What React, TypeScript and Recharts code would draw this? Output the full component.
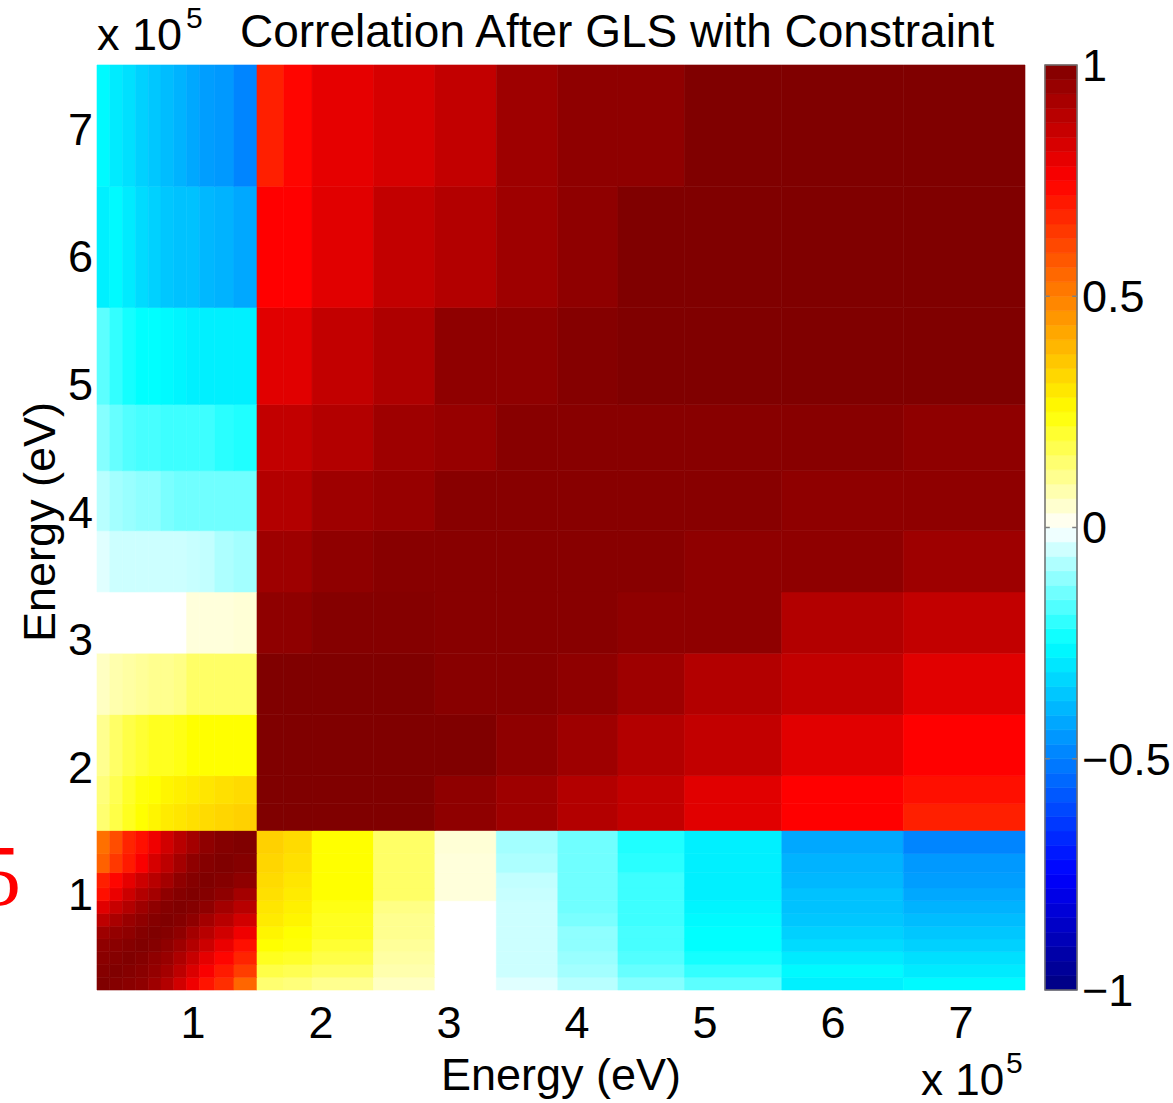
import React from "react"
import { ScatterChart, Scatter, XAxis, YAxis, ReferenceArea, ReferenceLine } from "recharts"

// energy bin edges (x 1e5 eV): fine groups below 1.5, wider groups above
const fineEdges = [0.25, 0.35, 0.45, 0.55, 0.65, 0.75, 0.85, 0.95, 1.05, 1.17, 1.32, 1.5]
const coarseEdges = [1.5, 1.71, 1.93, 2.41, 2.89, 3.37, 3.85, 4.32, 4.84, 5.6, 6.55, 7.5]

const energyTicks = [1, 2, 3, 4, 5, 6, 7]
const colorTicks = [-1, -0.5, 0, 0.5, 1]

// fine x fine block, rows from lowest energy up, columns left to right
const fineBlock = [
  [1.0, 0.99, 0.98, 0.97, 0.94, 0.9, 0.84, 0.78, 0.71, 0.66, 0.55],
  [0.99, 1.0, 0.99, 0.98, 0.96, 0.93, 0.88, 0.82, 0.76, 0.7, 0.63],
  [0.98, 0.99, 1.0, 0.99, 0.97, 0.95, 0.91, 0.86, 0.8, 0.74, 0.68],
  [0.97, 0.98, 0.99, 1.0, 0.99, 0.97, 0.94, 0.9, 0.85, 0.79, 0.72],
  [0.94, 0.96, 0.97, 0.99, 1.0, 0.99, 0.97, 0.93, 0.89, 0.84, 0.78],
  [0.88, 0.92, 0.95, 0.97, 0.99, 1.0, 0.99, 0.97, 0.93, 0.89, 0.84],
  [0.81, 0.86, 0.9, 0.94, 0.97, 0.99, 1.0, 0.99, 0.97, 0.93, 0.89],
  [0.72, 0.79, 0.85, 0.9, 0.93, 0.97, 0.99, 1.0, 0.99, 0.97, 0.93],
  [0.69, 0.74, 0.8, 0.85, 0.89, 0.93, 0.97, 0.99, 1.0, 0.99, 0.97],
  [0.56, 0.64, 0.7, 0.76, 0.83, 0.88, 0.93, 0.97, 0.99, 1.0, 0.99],
  [0.53, 0.6, 0.68, 0.72, 0.78, 0.84, 0.89, 0.93, 0.97, 0.99, 1.0],
]

// coarse rows (low to high energy) against fine columns; mirrored for the bottom strip
const crossBlock = [
  [0.14, 0.18, 0.22, 0.25, 0.27, 0.29, 0.3, 0.31, 0.32, 0.33, 0.34],
  [0.13, 0.17, 0.21, 0.24, 0.25, 0.27, 0.28, 0.29, 0.3, 0.31, 0.32],
  [0.11, 0.15, 0.18, 0.2, 0.22, 0.22, 0.23, 0.25, 0.25, 0.25, 0.25],
  [0.06, 0.08, 0.09, 0.1, 0.11, 0.11, 0.12, 0.15, 0.15, 0.15, 0.15],
  [0.0, 0.0, 0.0, 0.0, 0.0, 0.0, 0.0, 0.035, 0.035, 0.035, 0.04],
  [-0.03, -0.05, -0.05, -0.05, -0.05, -0.05, -0.05, -0.055, -0.06, -0.08, -0.09],
  [-0.07, -0.09, -0.1, -0.11, -0.11, -0.13, -0.14, -0.14, -0.14, -0.14, -0.14],
  [-0.12, -0.15, -0.17, -0.18, -0.18, -0.19, -0.19, -0.19, -0.19, -0.21, -0.22],
  [-0.16, -0.2, -0.23, -0.25, -0.25, -0.26, -0.27, -0.28, -0.28, -0.28, -0.28],
  [-0.28, -0.26, -0.29, -0.32, -0.34, -0.36, -0.37, -0.37, -0.39, -0.4, -0.42],
  [-0.26, -0.29, -0.31, -0.34, -0.36, -0.38, -0.4, -0.42, -0.44, -0.45, -0.49],
]

// coarse x coarse block, rows from low energy up
const coarseBlock = [
  [1.0, 1.0, 1.0, 1.0, 0.97, 0.94, 0.9, 0.87, 0.81, 0.75, 0.69],
  [1.0, 1.0, 1.0, 1.0, 0.97, 0.94, 0.9, 0.87, 0.81, 0.75, 0.72],
  [1.0, 1.0, 1.0, 1.0, 1.0, 0.97, 0.94, 0.9, 0.87, 0.81, 0.75],
  [1.0, 1.0, 1.0, 1.0, 0.985, 0.985, 0.97, 0.94, 0.9, 0.87, 0.81],
  [0.97, 0.97, 0.99, 0.99, 0.985, 0.985, 0.985, 0.97, 0.97, 0.9, 0.87],
  [0.94, 0.94, 0.97, 0.985, 0.985, 0.985, 0.985, 0.985, 0.97, 0.97, 0.94],
  [0.9, 0.9, 0.94, 0.955, 0.985, 0.985, 0.985, 0.985, 0.985, 0.97, 0.97],
  [0.87, 0.87, 0.9, 0.94, 0.955, 0.985, 0.985, 0.985, 0.985, 0.985, 0.97],
  [0.81, 0.81, 0.87, 0.91, 0.97, 0.97, 0.99, 1.0, 1.0, 1.0, 1.0],
  [0.75, 0.75, 0.81, 0.87, 0.9, 0.94, 0.97, 1.0, 1.0, 1.0, 1.0],
  [0.69, 0.74, 0.8, 0.83, 0.87, 0.94, 0.97, 0.97, 1.0, 1.0, 1.0],
]

// colormap anchors: value, r, g, b
const cmapStops = [
  [-1, 0, 0, 128],
  [-0.75, 0, 0, 255],
  [-0.25, 0, 255, 255],
  [0, 255, 255, 255],
  [0.25, 255, 255, 0],
  [0.75, 255, 0, 0],
  [1, 128, 0, 0],
]
const colorLevels = 64

const font = "'Liberation Sans', Arial, Helvetica, sans-serif"

function colorOf(v: number) {
  let i = 0
  while (i < cmapStops.length - 2 && v > cmapStops[i + 1][0]) i++
  const a = cmapStops[i]
  const b = cmapStops[i + 1]
  const t = Math.max(0, Math.min(1, (v - a[0]) / (b[0] - a[0])))
  const c = [1, 2, 3].map((k) => Math.round(a[k] + (b[k] - a[k]) * t))
  return `rgb(${c[0]},${c[1]},${c[2]})`
}

const edges = [...fineEdges, ...coarseEdges.slice(1)]
const nFine = fineEdges.length - 1

function valueAt(row: number, col: number) {
  const rf = row < nFine
  const cf = col < nFine
  if (rf && cf) return fineBlock[row][col]
  if (!rf && cf) return crossBlock[row - nFine][col]
  if (rf && !cf) return crossBlock[col - nFine][row]
  return coarseBlock[row - nFine][col - nFine]
}

const cells: { x0: number; x1: number; y0: number; y1: number; v: number }[] = []
for (let r = 0; r < edges.length - 1; r++) {
  for (let c = 0; c < edges.length - 1; c++) {
    cells.push({ x0: edges[c], x1: edges[c + 1], y0: edges[r], y1: edges[r + 1], v: valueAt(r, c) })
  }
}
const centers = cells.map((d) => ({ x: (d.x0 + d.x1) / 2, y: (d.y0 + d.y1) / 2 }))

const bands = Array.from({ length: colorLevels }, (_, k) => {
  const lo = -1 + (2 * k) / colorLevels
  const hi = -1 + (2 * (k + 1)) / colorLevels
  return { lo, hi, color: colorOf((lo + hi) / 2) }
})

const tickStyle = { fill: "#000", fontSize: 45, fontFamily: font }
const fmt = (v: number) => (v < 0 ? `\u2212${Math.abs(v)}` : `${v}`)

export default function App() {
  return (
    <div style={{ position: "absolute", left: 0, top: 0, width: 1173, height: 1103, background: "#fff", overflow: "hidden" }}>
      <div style={{ position: "absolute", left: 0, top: 0 }}>
        <ScatterChart width={1173} height={1103} margin={{ top: 65, right: 148, bottom: 53, left: 37 }}>
          <XAxis
            type="number"
            dataKey="x"
            domain={[0.25, 7.5]}
            ticks={energyTicks}
            allowDataOverflow
            height={60}
            axisLine={false}
            tickLine={false}
            tickSize={0}
            tickMargin={16}
            tick={tickStyle}
          />
          <YAxis
            type="number"
            dataKey="y"
            domain={[0.25, 7.5]}
            ticks={energyTicks}
            allowDataOverflow
            width={60}
            axisLine={false}
            tickLine={false}
            tickSize={0}
            tickMargin={4}
            tick={tickStyle}
          />
          {cells.map((d, i) => (
            <ReferenceArea
              key={i}
              x1={d.x0}
              x2={d.x1}
              y1={d.y0}
              y2={d.y1}
              fill={colorOf(d.v)}
              fillOpacity={1}
              stroke={colorOf(d.v)}
              strokeWidth={0.6}
              ifOverflow="visible"
            />
          ))}
          <Scatter data={centers} isAnimationActive={false} shape={() => <g />} />
        </ScatterChart>
      </div>

      <div style={{ position: "absolute", left: 1000, top: 0 }}>
        <ScatterChart width={173} height={1103} margin={{ top: 65, right: 0, bottom: 113, left: 45 }}>
          <XAxis type="number" dataKey="x" domain={[0, 1]} hide />
          <YAxis
            type="number"
            dataKey="y"
            orientation="right"
            domain={[-1, 1]}
            ticks={colorTicks}
            width={96}
            axisLine={false}
            tickLine={false}
            tickSize={0}
            tickMargin={5}
            tick={tickStyle}
            tickFormatter={fmt}
          />
          {bands.map((b, i) => (
            <ReferenceArea
              key={i}
              x1={0}
              x2={1}
              y1={b.lo}
              y2={b.hi}
              fill={b.color}
              fillOpacity={1}
              stroke={b.color}
              strokeWidth={0.6}
              ifOverflow="visible"
            />
          ))}
          <ReferenceArea x1={0} x2={1} y1={-1} y2={1} fill="none" stroke="#6d6d6d" strokeWidth={1.5} ifOverflow="visible" />
          {[-0.5, 0, 0.5].map((t) => (
            <ReferenceLine key={`l${t}`} segment={[{ x: 0, y: t }, { x: 0.15, y: t }]} stroke="#808080" strokeWidth={1.5} ifOverflow="visible" />
          ))}
          {[-0.5, 0, 0.5].map((t) => (
            <ReferenceLine key={`r${t}`} segment={[{ x: 0.85, y: t }, { x: 1, y: t }]} stroke="#808080" strokeWidth={1.5} ifOverflow="visible" />
          ))}
          <Scatter data={[{ x: 0.5, y: 0 }]} isAnimationActive={false} shape={() => <g />} />
        </ScatterChart>
      </div>

      <svg width={1173} height={1103} style={{ position: "absolute", left: 0, top: 0, pointerEvents: "none" }}>
        <text x={240} y={47} fontFamily={font} fontSize={46} fill="#000">
          Correlation After GLS with Constraint
        </text>
        <text x={97} y={50} fontFamily={font} fontSize={45} fill="#000">
          x 10
        </text>
        <text x={186} y={28} fontFamily={font} fontSize={30} fill="#000">
          5
        </text>
        <text x={921} y={1095} fontFamily={font} fontSize={44} fill="#000">
          x 10
        </text>
        <text x={1006} y={1073} fontFamily={font} fontSize={30} fill="#000">
          5
        </text>
        <text x={561} y={1090} textAnchor="middle" fontFamily={font} fontSize={45} fill="#000">
          Energy (eV)
        </text>
        <text
          x={0}
          y={0}
          transform="translate(55,522) rotate(-90)"
          textAnchor="middle"
          fontFamily={font}
          fontSize={45}
          fill="#000"
        >
          Energy (eV)
        </text>
        <text x={-22} y={905} fontFamily="'Liberation Serif', 'Times New Roman', serif" fontSize={86} fill="#ff0000">
          5
        </text>
      </svg>
    </div>
  )
}
